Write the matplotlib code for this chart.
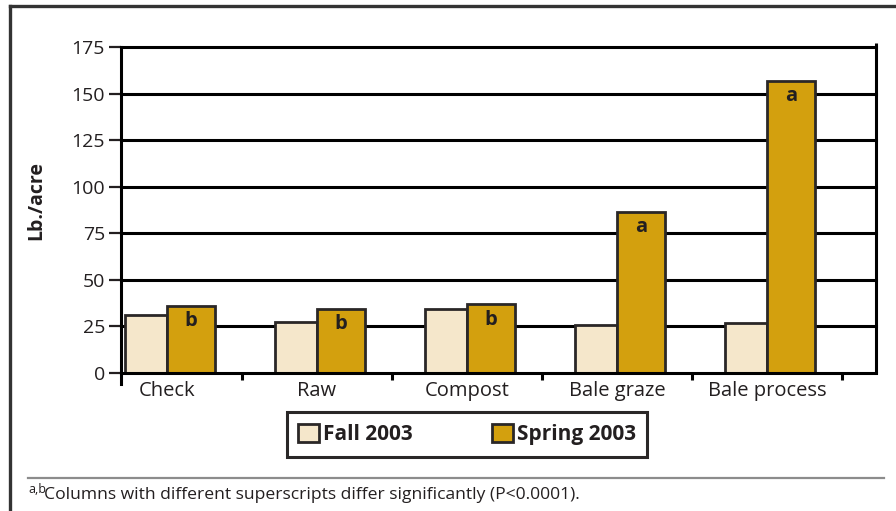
import matplotlib
matplotlib.use("Agg")
import matplotlib.pyplot as plt
import numpy as np
from matplotlib.lines import Line2D
from matplotlib.patches import Patch

categories = ["Check", "Raw", "Compost", "Bale graze", "Bale process"]
fall_2003 = [31, 27.5, 34.5, 26, 27]
spring_2003 = [36, 34.5, 37, 86.5, 157]
sig_letters = ["b", "b", "b", "a", "a"]
y_ticks = [0, 25, 50, 75, 100, 125, 150, 175]
series_names = ["Fall 2003", "Spring 2003"]
footnote_sup = "a,b"
footnote = "Columns with different superscripts differ significantly (P<0.0001)."

FALL_C = "#F5E7CB"
SPRING_C = "#D3A00E"
EDGE_C = "#2a2727"
TEXT_C = "#231f20"
FONT = ["Open Sans", "DejaVu Sans"]
plt.rcParams["font.family"] = FONT

W, H = 896, 511
fig = plt.figure(figsize=(W / 100, H / 100), dpi=100)
ax = fig.add_axes([121 / W, 1 - 373 / H, (876 - 121) / W, (373 - 47) / H])

x = np.arange(len(categories))
wf, ws = 0.28, 0.32
ax.bar(x - wf / 2, fall_2003, width=wf, color=FALL_C, edgecolor=EDGE_C,
       linewidth=2.0, zorder=3, label=series_names[0])
ax.bar(x + ws / 2, spring_2003, width=ws, color=SPRING_C, edgecolor=EDGE_C,
       linewidth=2.0, zorder=3, label=series_names[1])

for xi, v, lab in zip(x, spring_2003, sig_letters):
    ax.annotate(lab, xy=(xi + ws / 2, v), xytext=(0, -4), textcoords="offset points",
                ha="center", va="top", fontsize=14.5, fontweight="bold",
                color=TEXT_C, zorder=5)

ax.set_xlim(-0.307, 4.727)
ax.set_ylim(0, 175)
for yv in y_ticks[1:]:
    ax.axhline(yv, color="black", lw=2.2, zorder=1, clip_on=False)

ax.set_yticks(y_ticks)
ax.set_yticklabels([str(t) for t in y_ticks], fontsize=14, color=TEXT_C)
ax.tick_params(axis="y", length=8.5, width=1.6, pad=3, color=TEXT_C, direction="out")

ax.set_xticks(x)
ax.set_xticklabels(categories, fontsize=14.5, color=TEXT_C)
ax.tick_params(axis="x", which="major", length=0, pad=6)
ax.set_xticks(np.arange(len(categories)) + 0.5, minor=True)
ax.tick_params(axis="x", which="minor", length=5, width=2.2, color="black", direction="out")

ax.spines["top"].set_visible(False)
ax.spines["right"].set_visible(False)
for s in ["left", "bottom"]:
    ax.spines[s].set_linewidth(2.2)
    ax.spines[s].set_color("black")
    ax.spines[s].set_zorder(4)
ax.spines["left"].set_bounds(-6, 175)
ax.plot([4.727, 4.727], [0, 177], color="black", lw=2.2, clip_on=False, zorder=4,
        solid_capstyle="butt")

ax.set_ylabel("Lb./acre", fontsize=14, fontweight="bold", color=TEXT_C)
ax.yaxis.set_label_coords(-(121 - 46) / (876 - 121), 0.53)

handles = [Patch(facecolor=FALL_C, edgecolor=EDGE_C, linewidth=2.0),
           Patch(facecolor=SPRING_C, edgecolor=EDGE_C, linewidth=2.0)]
leg = fig.legend(handles, series_names, loc="center", bbox_to_anchor=(467 / W, 1 - 434.5 / H),
                 ncol=2, frameon=True, fancybox=False, framealpha=1,
                 prop={"weight": "bold", "size": 15, "family": FONT},
                 handlelength=1.0, handleheight=1.0, handletextpad=0.2,
                 columnspacing=3.8, borderpad=0.55, edgecolor=EDGE_C)
leg.get_frame().set_linewidth(2.2)
for t in leg.get_texts():
    t.set_color(TEXT_C)

# outer frame and footnote rule
fig.add_artist(Line2D([10 / W, 10 / W], [0, 1 - 6 / H], color="#333333", lw=2.4))
fig.add_artist(Line2D([10 / W, 1], [1 - 6 / H, 1 - 6 / H], color="#333333", lw=2.4))
fig.add_artist(Line2D([28 / W, 884 / W], [1 - 478 / H, 1 - 478 / H], color="#8c8c8c", lw=1.6))

fig.text(28 / W, 1 - 489 / H, footnote_sup, fontsize=9, color=TEXT_C, ha="left", va="center")
fig.text(44 / W, 1 - 495 / H, footnote, fontsize=12.6, color=TEXT_C, ha="left", va="center")

fig.savefig("out.png", dpi=100)
